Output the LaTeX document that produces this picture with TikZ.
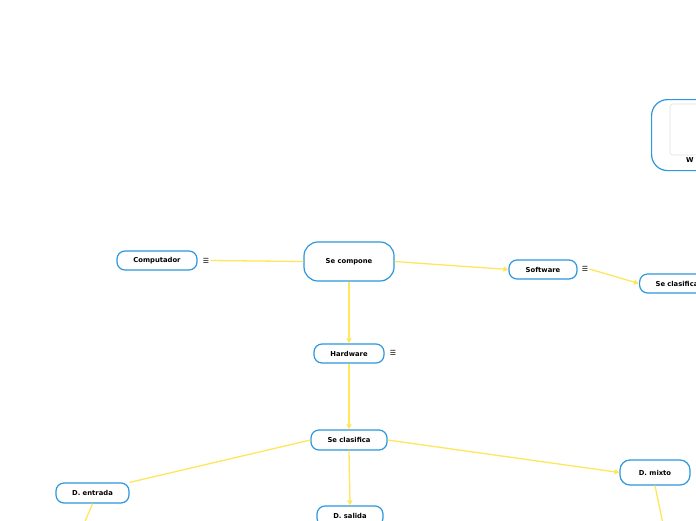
\documentclass[tikz,border=0pt]{standalone}
\usepackage{fontspec}
\setmainfont{DejaVu Sans}
\usetikzlibrary{arrows.meta,positioning}
\definecolor{mapblue}{RGB}{44,152,222}
\definecolor{mapyellow}{RGB}{255,230,90}
\tikzset{
      topicbox/.style={
        rounded corners=8pt,
        draw=mapblue,
        line width=1.2pt,
        fill=white,
        minimum height=19pt,
        inner sep=3pt,
        font=\fontsize{6.8}{8}\selectfont\bfseries
      },
      link/.style={
        mapyellow,
        line width=1.3pt
      },
      linkarrow/.style={
        link,
        -{Triangle[length=5pt,width=5pt]}
      },
      menuicon/.style={
        inner sep=1pt,
        font=\fontsize{7}{8}\selectfont
      }
    }

\begin{document}
\begin{tikzpicture}[x=1pt,y=-1pt]
    \useasboundingbox (0,0) rectangle (696,520);
    \clip (0,0) rectangle (696,520);
    \fill[white] (0,0) rectangle (696,520);
    % image topic cut at the right edge
    \node[topicbox, rounded corners=16pt, minimum width=110pt, minimum height=71pt, anchor=north west] (wtopic) at (651,99) {};
    \draw[black!12, line width=0.6pt, rounded corners=3pt] (670,104) rectangle (740,155);
    \node[font=\fontsize{6.8}{8}\selectfont\bfseries, anchor=west, inner sep=0pt] (wlabel) at (686,160) {W};
    % main topics
    \node[topicbox, minimum width=90pt, minimum height=39pt, rounded corners=14pt] (secompone) at (349,261.5) {Se compone};
    \node[topicbox, minimum width=80pt] (computador) at (157,260.5) {Computador};
    \node[menuicon] (computadoricon) at (206,260.5) {☰};
    \node[topicbox, minimum width=68pt] (software) at (543,269.5) {Software};
    \node[menuicon] (softwareicon) at (585,269) {☰};
    \node[topicbox, anchor=west, inner xsep=16pt, text width=60pt, align=left] (softclasifica) at (639,283.5) {Se clasifica};
    \node[topicbox, minimum width=70pt] (hardware) at (349,353.5) {Hardware};
    \node[menuicon] (hardwareicon) at (393,353) {☰};
    \node[topicbox, minimum width=76pt, minimum height=20pt] (hardclasifica) at (349,440) {Se clasifica};
    \node[topicbox, minimum width=73pt, minimum height=20pt] (dentrada) at (92.5,493) {D. entrada};
    \node[topicbox, minimum width=66pt, minimum height=20pt] (dsalida) at (350,516) {D. salida};
    \node[topicbox, minimum width=70pt, minimum height=25pt, rounded corners=10pt] (dmixto) at (655,472.5) {D. mixto};
    \coordinate (entradaout) at (84,524);
    \coordinate (mixtoout) at (663,524);
    % connectors
    \draw[link] (secompone.west) -- (computadoricon.east);
    \draw[linkarrow] (secompone.east) -- (software.west);
    \draw[linkarrow] (softwareicon.east) -- (softclasifica.west);
    \draw[linkarrow] (secompone.south) -- (hardware.north);
    \draw[linkarrow] (hardware.south) -- (hardclasifica.north);
    \draw[link] (hardclasifica.west) -- (dentrada.north east);
    \draw[linkarrow] (hardclasifica.south) -- (dsalida.north);
    \draw[linkarrow] (hardclasifica.east) -- (dmixto.west);
    \draw[link] (dentrada.south) -- (entradaout);
    \draw[link] (dmixto.south) -- (mixtoout);
    \end{tikzpicture}
\end{document}
